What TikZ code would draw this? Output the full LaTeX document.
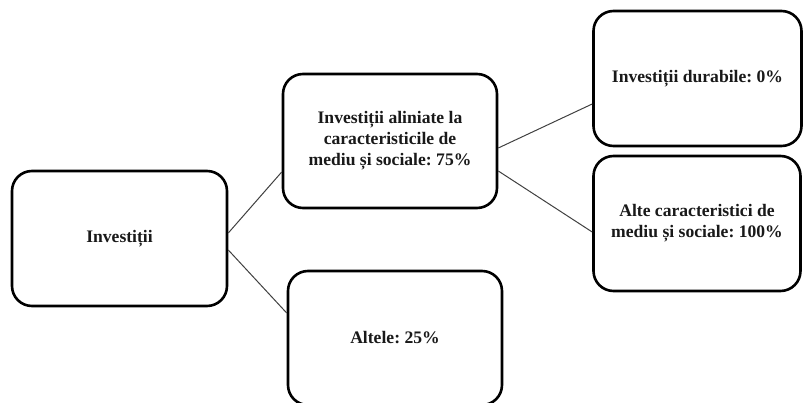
\documentclass[tikz,border=0pt]{standalone}
\usepackage{fontspec}
\setmainfont{Liberation Serif}
\frenchspacing
\begin{document}
\begin{tikzpicture}[x=1pt,y=-1pt,
  box/.style={draw=black,line width=2.6pt,rounded corners=20pt,fill=white,
    inner sep=0pt,align=center,text=black!90,
    font=\fontsize{17.6}{21}\selectfont\bfseries},
  link/.style={draw=black!75,line width=1pt}]
\useasboundingbox (0,0) rectangle (804,403);
\node[box,minimum width=215pt,minimum height=135pt] (inv) at (119.5,238.5) {Investiții};
\node[box,minimum width=214pt,minimum height=134pt] (ali) at (390,141) {Investiții aliniate la\\caracteristicile de\\mediu și sociale: 75\%};
\node[box,minimum width=214pt,minimum height=134pt] (alt) at (395,338) {Altele: 25\%};
\node[box,minimum width=208pt,minimum height=135pt] (dur) at (697.5,78.5) {Investiții durabile: 0\%};
\node[box,minimum width=207pt,minimum height=135pt] (car) at (697,223.5) {Alte caracteristici de\\mediu și sociale: 100\%};
\draw[link] ([yshift=5.5pt]inv.east) -- ([yshift=-31pt]ali.west);
\draw[link] ([yshift=-11.5pt]inv.east) -- ([yshift=25pt]alt.west);
\draw[link] ([yshift=-7pt]ali.east) -- ([yshift=-25.5pt]dur.west);
\draw[link] ([yshift=-30pt]ali.east) -- ([yshift=-8.5pt]car.west);
\end{tikzpicture}
\end{document}
